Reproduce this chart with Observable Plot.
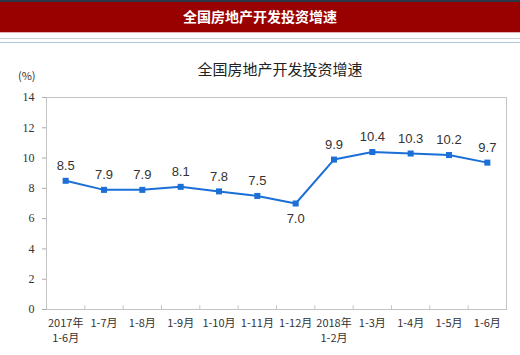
<!DOCTYPE html>
<html><head><meta charset="utf-8">
<script src="https://cdn.jsdelivr.net/npm/d3@7"></script>
<script src="https://cdn.jsdelivr.net/npm/@observablehq/plot@0.6"></script>
<style>
body{margin:0;width:520px;height:355px;background:#fff;position:relative;overflow:hidden;font-family:"Noto Sans CJK SC",sans-serif;}
#banner{position:absolute;left:0;top:0;width:520px;height:32px;background:#990000;border-top:2px solid #2b3a4a;box-sizing:border-box;color:#fff;font-weight:bold;font-size:14px;text-align:center;line-height:29px;}
#l1{position:absolute;left:0;top:32px;width:520px;height:1px;background:#e8b0b0;}
#l2{position:absolute;left:0;top:38px;width:520px;height:1px;background:#cfcfcf;}
#l3{position:absolute;left:0;top:42px;width:520px;height:1px;background:#aac6d8;}
#title{position:absolute;left:0;top:58px;width:560px;text-align:center;font-size:15px;color:#222;}
#unit{position:absolute;left:18px;top:67px;font-size:11px;color:#333;}
#chart{position:absolute;left:0;top:40px;}
</style></head>
<body>
<div id="banner">全国房地产开发投资增速</div>
<div id="l1"></div><div id="l2"></div><div id="l3"></div>
<div id="title">全国房地产开发投资增速</div>
<div id="unit">(%)</div>
<div id="chart"></div>
<script>
const categories = ["2017年\n1-6月","1-7月","1-8月","1-9月","1-10月","1-11月","1-12月","2018年\n1-2月","1-3月","1-4月","1-5月","1-6月"];
const values = [8.5,7.9,7.9,8.1,7.8,7.5,7.0,9.9,10.4,10.3,10.2,9.7];
const yTicks = [0,2,4,6,8,10,12,14];
const labelBelow = ["1-12月"];

const data = categories.map((c,i)=>({i, c, v: values[i], below: labelBelow.includes(c)}));
const boundaries = categories.slice(1).map((_,i)=> i + 0.5);
const blue = "#1b6fd6";

const chart = Plot.plot({
  width: 520, height: 315,
  marginTop: 57, marginBottom: 46, marginLeft: 46, marginRight: 14,
  style: {fontFamily: "'Noto Sans CJK SC', sans-serif", color: "#333", background: "transparent"},
  x: {type: "linear", domain: [-0.5, categories.length - 0.5], axis: null},
  y: {domain: [0, 14], axis: null},
  marks: [
    Plot.frame({stroke: "#c4c4c4"}),
    Plot.axisY({ticks: yTicks, tickSize: 4, tickPadding: 8, stroke: "#aaa", fontSize: 12, fill: "#333", label: null, fontFamily: "Liberation Serif"}),
    Plot.ruleX(boundaries, {x: d => d, y1: 0, y2: 0.25, stroke: "#c4c4c4"}),
    Plot.text(data, {x: "i", text: "c", frameAnchor: "bottom", dy: 7, lineAnchor: "top", fontSize: 11, fill: "#333", lineHeight: 1.35}),
    Plot.line(data, {x: "i", y: "v", stroke: blue, strokeWidth: 2}),
    Plot.dot(data, {x: "i", y: "v", symbol: "square", r: 3.4, fill: blue, stroke: "none"}),
    Plot.text(data.filter(d => !d.below), {x: "i", y: "v", text: d => d.v.toFixed(1), dy: -15, fontSize: 13, fill: "#333", fontFamily: "Liberation Sans"}),
    Plot.text(data.filter(d => d.below), {x: "i", y: "v", text: d => d.v.toFixed(1), dy: 15, fontSize: 13, fill: "#333", fontFamily: "Liberation Sans"})
  ]
});
document.getElementById("chart").append(chart);
</script>
</body></html>
